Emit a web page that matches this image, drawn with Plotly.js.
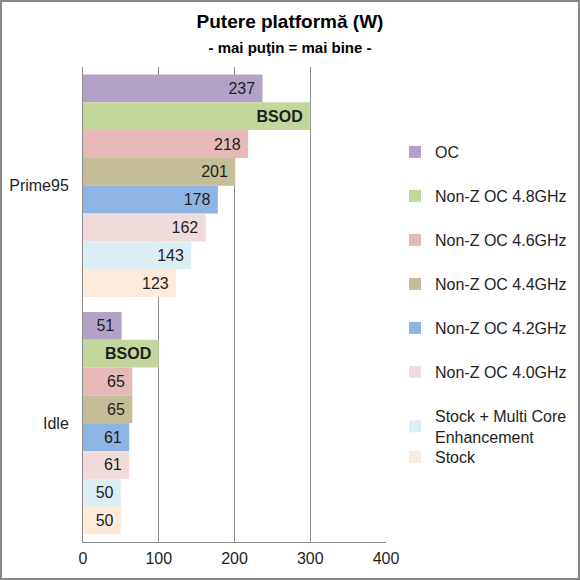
<!DOCTYPE html>
<html>
<head>
<meta charset="utf-8">
<script src="https://cdn.plot.ly/plotly-3.0.1.min.js"></script>
<style>
html,body{margin:0;padding:0;background:#fff;}
#chart{width:580px;height:580px;}
</style>
</head>
<body>
<div id="chart"></div>
<script>
// Data
const categories = ['Prime95', 'Idle'];
const seriesNames = ['OC', 'Non-Z OC 4.8GHz', 'Non-Z OC 4.6GHz', 'Non-Z OC 4.4GHz',
  'Non-Z OC 4.2GHz', 'Non-Z OC 4.0GHz', 'Stock + Multi Core<br>Enhancement', 'Stock'];
const valOC      = [237, 51];
const valNZ48    = [300, 100];          // BSOD placeholder bar length
const valNZ46    = [218, 65];
const valNZ44    = [201, 65];
const valNZ42    = [178, 61];
const valNZ40    = [162, 61];
const valMCE     = [143, 50];
const valStock   = [123, 50];
const labelsNZ48 = ['BSOD', 'BSOD'];
const xTicks     = [0, 100, 200, 300, 400];

const seriesValues = [valOC, valNZ48, valNZ46, valNZ44, valNZ42, valNZ40, valMCE, valStock];
const colors = ['#B3A2C7', '#C3D69B', '#E6B9B8', '#C4BD97', '#8EB4E3', '#F2DCDB', '#DBEEF4', '#FDEADA'];

const FONT = '"Liberation Sans", Arial, sans-serif';
const TXT = '#1e1e1e';
const FS = 16;

const traces = seriesValues.map((vals, i) => {
  const isBSOD = (i === 1);
  return {
    type: 'bar',
    orientation: 'h',
    name: seriesNames[i],
    x: vals,
    y: categories,
    text: isBSOD ? labelsNZ48 : vals.map(String),
    texttemplate: isBSOD ? '<b>%{text}</b>\u00a0' : '%{text}\u00a0',
    textposition: 'inside',
    insidetextanchor: 'end',
    constraintext: 'none',
    textangle: 0,
    insidetextfont: {family: FONT, size: FS, color: TXT},
    marker: {color: colors[i], line: {width: 0}},
    legendgroup: 'g' + i,
    legend: (i === 7) ? 'legend2' : 'legend',
    hoverinfo: 'x+name'
  };
});

// plot area in pixels: x 83..386, y 67..542
const L = 83, R = 194, T = 67, B = 38;
const pw = 580 - L - R, ph = 580 - T - B;

const legendCommon = {
  x: (395 - L) / pw, xanchor: 'left',
  yanchor: 'top',
  traceorder: 'grouped',
  tracegroupgap: 20.2,
  font: {family: FONT, size: FS, color: TXT},
  bgcolor: 'rgba(0,0,0,0)',
  itemclick: false, itemdoubleclick: false
};

const layout = {
  width: 580, height: 580,
  margin: {l: L, r: R, t: T, b: B, pad: 0, autoexpand: false},
  paper_bgcolor: '#ffffff',
  plot_bgcolor: '#ffffff',
  font: {family: FONT, size: FS, color: TXT},
  title: {
    text: '<b>Putere platformă (W)</b><br><span style="font-size:15px"><b>- mai puţin = mai bine -</b></span>',
    font: {family: FONT, size: 19, color: '#000000'},
    x: 0.5, xref: 'container', xanchor: 'center',
    y: 1 - 28/580, yref: 'container', yanchor: 'top'
  },
  barmode: 'group',
  bargap: 0.063,
  bargroupgap: 0,
  xaxis: {
    range: [0, 400],
    tickvals: xTicks,
    showgrid: true, gridcolor: '#8c8c8c', gridwidth: 1,
    zeroline: false,
    showline: true, linecolor: '#8c8c8c', linewidth: 1,
    ticks: '',
    ticklabelstandoff: 2,
    tickfont: {family: FONT, size: FS, color: TXT},
    automargin: false,
    fixedrange: true
  },
  yaxis: {
    type: 'category',
    categoryorder: 'array', categoryarray: categories,
    autorange: 'reversed',
    showgrid: false, zeroline: false,
    showline: true, linecolor: '#8c8c8c', linewidth: 1,
    ticks: '',
    ticklabelstandoff: 10,
    tickfont: {family: FONT, size: FS, color: TXT},
    automargin: false,
    fixedrange: true
  },
  legend: Object.assign({}, legendCommon, {y: 1 - (135 - T) / ph}),
  legend2: Object.assign({}, legendCommon, {y: 1 - (440 - T) / ph}),
  showlegend: true,
  shapes: [{
    type: 'rect', xref: 'paper', yref: 'paper',
    x0: (1 - L) / pw, x1: (579 - L) / pw,
    y0: -(B - 1) / ph, y1: 1 + (T - 1) / ph,
    line: {color: '#868686', width: 2},
    fillcolor: 'rgba(0,0,0,0)',
    layer: 'above'
  }]
};

Plotly.newPlot('chart', traces, layout, {displayModeBar: false, staticPlot: true});
</script>
</body>
</html>
